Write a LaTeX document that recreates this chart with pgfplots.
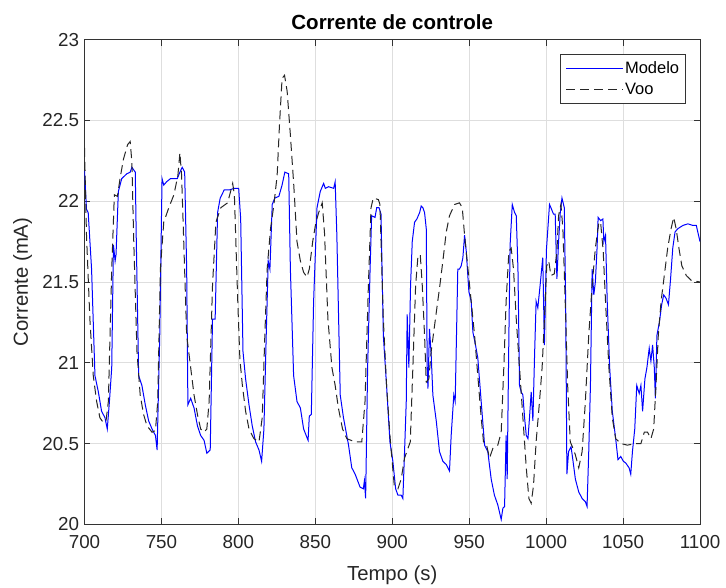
\documentclass[border=0pt]{standalone}
\usepackage{pgfplots}
\pgfplotsset{compat=1.18}
\usepackage{fontspec}
\setmainfont{Liberation Sans}
\begin{document}
\begin{tikzpicture}
\path[use as bounding box] (-84.5pt,-63.7pt) rectangle (641.5pt,524.3pt);
\begin{axis}[
  at={(0pt,0pt)}, anchor=south west,
  scale only axis, width=615.5pt, height=484.6pt,
  xmin=700, xmax=1100, ymin=20, ymax=23,
  xtick={700,750,...,1100}, ytick={20,20.5,21,21.5,22,22.5,23},
  grid=major, grid style={black!13, line width=0.6pt},
  axis line style={black!80, line width=0.9pt},
  tick style={black!80, line width=0.9pt}, tick align=inside, major tick length=6pt,
  /pgf/number format/assume math mode=true,
  /pgf/number format/1000 sep={},
  ticklabel style={font=\fontsize{18.8}{20}\selectfont, text=black!85},
  yticklabel style={xshift=-2pt},
  xticklabel style={yshift=-8pt},
  title={Corrente de controle},
  title style={font=\bfseries\fontsize{20.5}{22}\selectfont, at={(axis description cs:0.5,1.008)}, anchor=base},
  xlabel={Tempo (s)},
  xlabel style={font=\fontsize{20.3}{22}\selectfont, text=black!85, at={(axis description cs:0.5,-0.1164)}, anchor=base},
  ylabel={Corrente (mA)},
  ylabel style={font=\fontsize{20.3}{22}\selectfont, text=black!85, at={(axis description cs:-0.0918,0.5)}, anchor=base},
  legend style={at={(axis description cs:1,1)}, anchor=north east, xshift=-14pt, yshift=-14.6pt,
    font=\fontsize{16.5}{18}\selectfont, draw=black!80, line width=0.7pt, inner xsep=5pt, inner ysep=5pt,
    row sep=4pt, cells={anchor=west}, nodes={inner xsep=1.5pt}},
  legend image code/.code={\draw[#1] (0pt,0pt) -- (57pt,0pt);},
]
\addplot[color=blue, line width=1pt] coordinates {
(700,22.19) (701.3,21.95) (702.4,21.93) (704.6,21.58) (706.8,20.92) (709,20.82) (711.1,20.70) (713.3,20.66) (714.8,20.59) (716.2,20.76) (717.7,20.97) (718.8,21.73) (719.9,21.63) (720.5,21.67) (722,22.06) (724.2,22.14) (727.5,22.17) (729.7,22.18) (730.8,22.21) (733,22.18) (733.6,21.79) (735.2,20.92) (737.3,20.86) (739.5,20.74) (741.7,20.64) (743.9,20.59) (746.1,20.55) (747.2,20.46) (748.9,21.17) (750.4,22.14) (751.5,22.10) (753.3,22.12) (755.9,22.14) (760.3,22.14) (762,22.18) (763.5,22.21) (765.1,22.18) (766.4,21.58) (767.2,20.74) (769,20.78) (771.2,20.72) (773.4,20.61) (775.5,20.55) (777.7,20.52) (779.5,20.44) (781.7,20.46) (783.2,21.27) (784.9,21.27) (786.5,21.93) (788.2,22.02) (790.8,22.07) (794.1,22.07) (797.4,22.08) (800.2,22.08) (801.5,21.89) (803,21.07) (804.7,20.90) (806.9,20.74) (809,20.61) (811.2,20.51) (813.4,20.46) (815.1,20.39) (816.6,20.59) (818.1,21.17) (819.4,21.63) (820.5,21.58) (822,21.98) (823.7,22.02) (826.3,22.03) (828.4,22.10) (830.2,22.18) (832.7,22.17) (833.8,21.58) (835.9,20.92) (838.1,20.76) (840.3,20.72) (842.4,20.59) (845.3,20.52) (846.1,20.67) (847.4,20.68) (848.9,21.38) (851.1,21.96) (853.2,22.06) (855.4,22.11) (856.5,22.08) (858.6,22.09) (861.9,22.08) (862.9,22.12) (864,21.79) (866.2,20.80) (868.3,20.66) (871.6,20.49) (873.7,20.35) (875.9,20.31) (879.1,20.23) (881.2,20.22) (881.9,20.27) (882.7,20.16) (884,20.97) (885.6,21.58) (886.6,21.91) (888.8,21.90) (889.9,21.96) (891.4,21.96) (892.7,21.92) (894.2,21.17) (896.3,20.86) (898.5,20.51) (900.4,20.39) (902.2,20.22) (903.7,20.18) (905.8,20.18) (906.9,20.16) (908,20.45) (909.1,20.76) (909.7,21.30) (910.8,20.97) (911.9,21.48) (913,21.75) (914.5,21.87) (916,21.89) (917.8,21.93) (918.8,21.97) (919.9,21.96) (921,21.93) (922.1,21.83) (922.7,20.97) (923.2,20.84) (924.2,21.21) (925.3,21.05) (926.4,20.80) (928.6,20.64) (930.7,20.45) (932.9,20.39) (935.1,20.37) (937.2,20.33) (938.3,20.55) (940,20.80) (940.9,20.76) (942.6,21.58) (943.7,21.58) (944.8,21.60) (945.9,21.65) (947,21.79) (948.1,21.69) (949.8,21.44) (951.3,21.38) (952.4,21.19) (954.1,21.11) (955.6,21.03) (957.8,20.76) (960,20.49) (962.1,20.45) (964.3,20.28) (966.4,20.18) (968.6,20.12) (970.8,20.03) (971.9,20.10) (973,20.11) (974,20.55) (974.7,20.28) (975.8,21.17) (976.6,21.73) (978,21.98) (979.5,21.93) (980.6,21.91) (981.7,21.58) (982.7,20.86) (983.8,20.82) (984.9,20.80) (986,20.66) (987.1,20.55) (988.2,20.53) (989.2,20.66) (990.3,20.82) (991.4,20.64) (992.5,21.05) (993.5,21.38) (994.6,21.34) (996.1,21.48) (997.8,21.65) (998.9,21.11) (1000.2,21.70) (1002.2,21.98) (1003.1,21.96) (1004.8,21.92) (1005.9,21.92) (1007,21.52) (1008.1,21.75) (1009.2,21.93) (1010.3,22.02) (1011.8,21.96) (1012.7,21.38) (1013.5,20.31) (1014.6,20.45) (1016.2,20.48) (1017.5,20.39) (1019,20.28) (1021.2,20.20) (1023.4,20.16) (1025.5,20.14) (1026.6,20.11) (1027.7,20.45) (1028.8,20.86) (1029.9,21.58) (1031,21.42) (1032,21.50) (1033.1,21.71) (1033.8,21.90) (1035.4,21.88) (1036.9,21.89) (1037.5,21.75) (1038.6,21.79) (1039.7,21.38) (1041.3,20.97) (1043,20.70) (1045.2,20.53) (1046.7,20.40) (1048.5,20.42) (1050.2,20.39) (1051.7,20.38) (1053.9,20.35) (1055,20.31) (1056.1,20.45) (1057.6,20.59) (1058.9,20.86) (1060.5,20.81) (1061.6,20.86) (1062.7,20.70) (1064.2,20.90) (1065.5,20.97) (1067,21.09) (1068.1,21.01) (1069.2,21.11) (1070.3,20.97) (1071,20.78) (1072,21.17) (1073.6,21.25) (1075.1,21.36) (1076.4,21.42) (1077.9,21.40) (1079.5,21.36) (1080.8,21.51) (1082.3,21.71) (1083.8,21.81) (1085.6,21.83) (1088.9,21.85) (1092.1,21.86) (1095.4,21.85) (1097.6,21.85) (1100,21.75)
};
\addlegendentry{Modelo}
\addplot[color=black!85, line width=1pt, dash pattern=on 9pt off 5pt] coordinates {
(700,22.33) (701.3,21.79) (703.5,21.27) (705.7,20.92) (707.9,20.76) (710,20.66) (712.2,20.63) (714,20.64) (715.5,20.76) (717.7,21.58) (719.4,22.04) (721.4,22.03) (723.1,22.14) (725.3,22.26) (728,22.35) (729.7,22.37) (730.8,22.24) (731.9,21.79) (734.1,21.07) (736.2,20.80) (738.4,20.68) (740.6,20.61) (743.9,20.57) (746.1,20.58) (747.6,20.76) (749.3,21.58) (751.5,21.87) (754.8,21.96) (758.1,22.04) (760.7,22.16) (762,22.30) (763.1,22.16) (764.7,21.69) (766.4,21.17) (769,20.97) (771.2,20.80) (773.4,20.68) (775.5,20.59) (777.7,20.57) (779.5,20.59) (781,20.76) (783.2,21.48) (785.4,21.87) (788.6,21.96) (793,21.99) (796.3,22.11) (797.4,22.04) (799.6,21.38) (801,21.02) (802.6,20.86) (804.7,20.70) (806.9,20.59) (810.1,20.53) (813.4,20.51) (815.5,20.66) (817.2,21.17) (818.7,21.58) (820.9,21.83) (823.1,21.98) (825.2,22.16) (826.7,22.47) (828.4,22.76) (830,22.78) (831.7,22.68) (833.8,22.41) (836,22.10) (838.1,21.75) (840.3,21.63) (842.4,21.56) (844.6,21.53) (846.1,21.58) (848.3,21.75) (850.4,21.87) (852.2,21.93) (854.5,21.99) (856,21.80) (858.2,21.27) (860.8,20.97) (862.9,20.86) (865,20.72) (867.7,20.59) (870.5,20.53) (875.9,20.51) (880.2,20.51) (882.3,20.76) (884.5,21.48) (886.2,21.96) (887.7,22.02) (891,22.01) (892,21.98) (894.2,21.27) (896.3,20.86) (898.5,20.55) (901.3,20.24) (903.7,20.22) (905.8,20.28) (908,20.41) (910.2,20.47) (911.7,20.51) (913.4,20.97) (915.2,21.48) (916.7,21.66) (918.2,21.67) (919.5,21.48) (921,21.17) (922.1,20.88) (923.8,20.90) (925.3,21.07) (927.5,21.23) (929,21.34) (930.7,21.46) (932.9,21.63) (935.1,21.81) (937.2,21.91) (940.5,21.98) (943.7,21.99) (945.5,21.96) (947,21.79) (949.2,21.58) (951.3,21.38) (953.5,21.17) (955.6,20.92) (957.8,20.66) (959.3,20.51) (961.1,20.50) (963.2,20.41) (965.4,20.47) (968.6,20.49) (970.8,20.57) (972.5,20.97) (974,21.38) (975.8,21.69) (977.3,21.71) (978.8,21.58) (980.6,21.27) (982.7,20.97) (984.9,20.66) (987.1,20.35) (988.8,20.16) (990.3,20.13) (991.8,20.24) (993.5,20.51) (995.7,20.76) (997.4,20.97) (998.9,21.27) (1000.4,21.60) (1001.7,21.63) (1003.1,21.54) (1005.3,21.55) (1007,21.69) (1008.1,21.91) (1009.6,21.98) (1010.9,21.83) (1012.4,21.38) (1014,20.86) (1015.7,20.51) (1017.5,20.47) (1019,20.43) (1021.2,20.35) (1023.4,20.45) (1025.5,20.76) (1027.7,21.17) (1029.9,21.48) (1032,21.71) (1034.3,21.87) (1035.4,21.87) (1037.1,21.69) (1038.6,21.38) (1040.8,20.97) (1043,20.66) (1045.2,20.53) (1048.5,20.50) (1052.8,20.49) (1058.3,20.50) (1061.6,20.50) (1063.8,20.57) (1065.9,20.57) (1068.1,20.53) (1069.9,20.59) (1071.4,20.86) (1072.9,21.17) (1074.7,21.38) (1076.8,21.54) (1079,21.71) (1081.2,21.83) (1082.9,21.90) (1084.5,21.83) (1086.3,21.71) (1088.2,21.60) (1091.1,21.54) (1094.3,21.51) (1100,21.50)
};
\addlegendentry{Voo}
\end{axis}
\end{tikzpicture}
\end{document}
